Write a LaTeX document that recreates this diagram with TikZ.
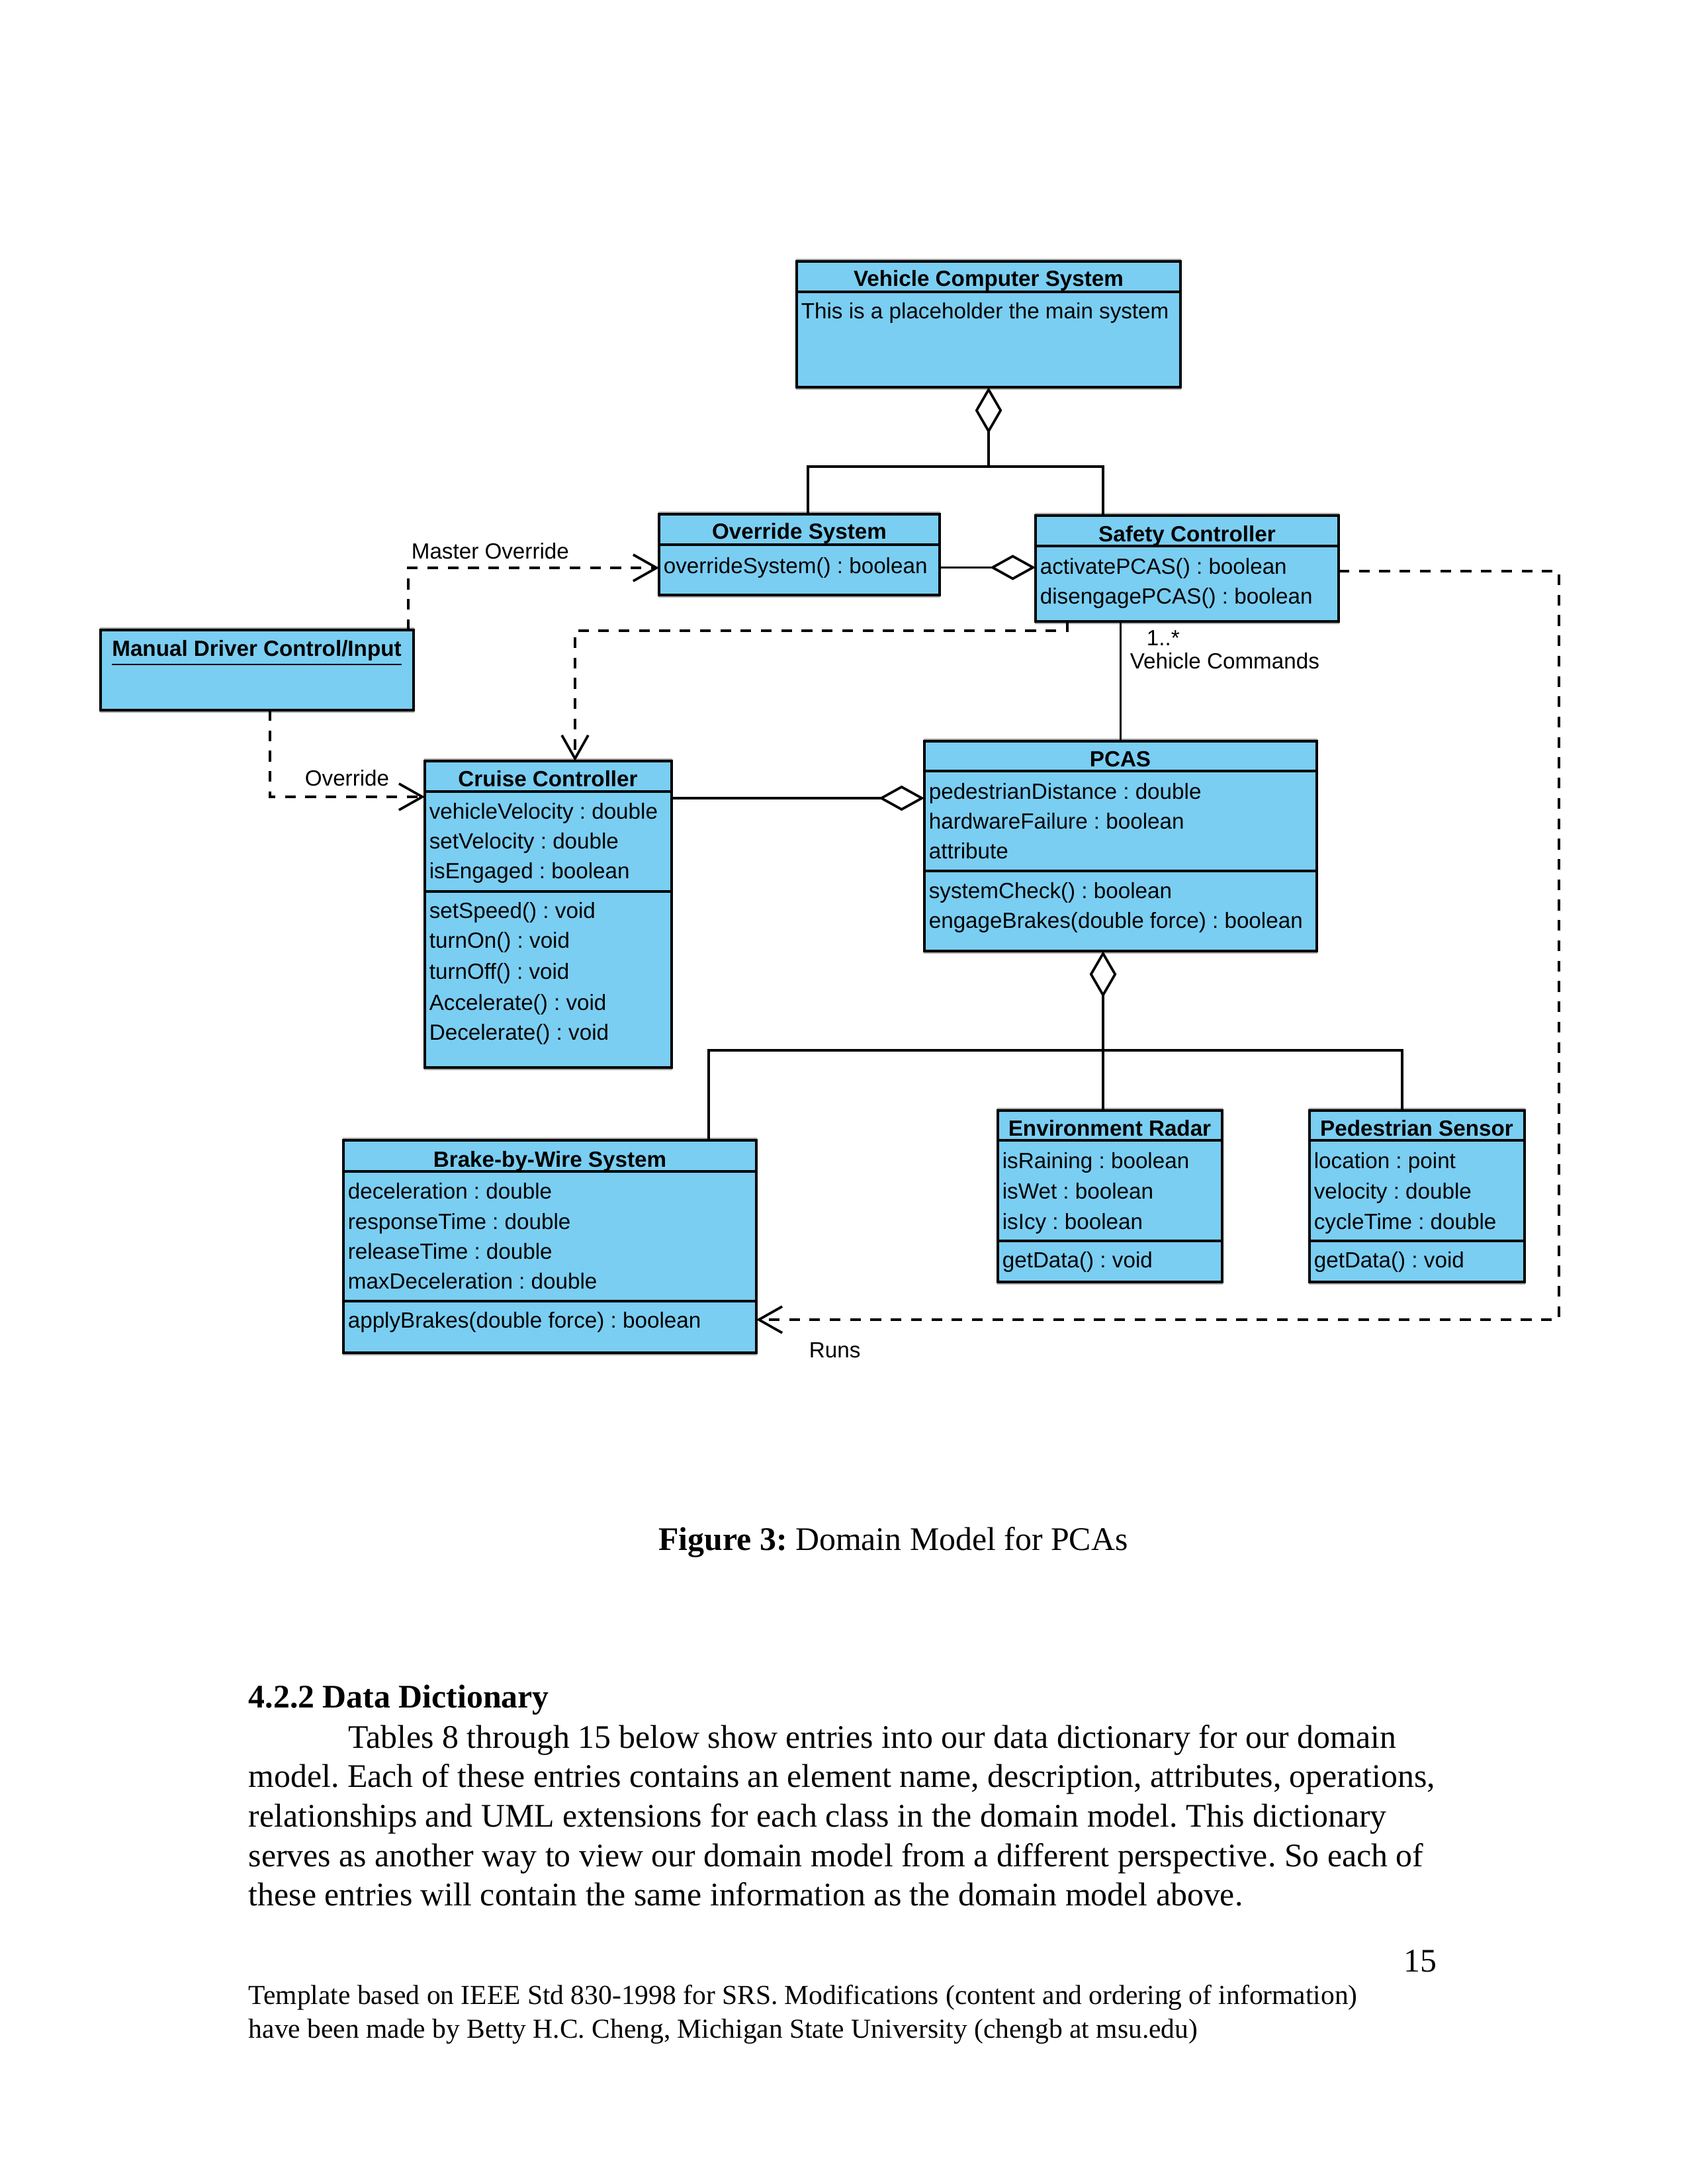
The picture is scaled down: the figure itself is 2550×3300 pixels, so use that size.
\documentclass[tikz,border=0pt]{standalone}
\usepackage{fontspec}
\setmainfont{Liberation Serif}
\newfontfamily\umlfont{Liberation Sans}
\usetikzlibrary{arrows.meta}
\frenchspacing
\definecolor{umlblue}{RGB}{122,206,242}
\definecolor{umlshadow}{RGB}{170,170,170}
\newcommand\classbox[7]{%
  \draw[shadowline] (#2,#3-3) rectangle (#4,#5+3);
  \node[cbox, minimum width={(#4-#2)*0.24088pt}, minimum height={(#5-#3)*0.24088pt}] (#1) at ({(#2+#4)/2},{(#3+#5)/2}) {};
  \draw[cline] (#2,#6) -- (#4,#6);
  \ifx&#7&\else\draw[cline] (#2,#7) -- (#4,#7);\fi
}
\newcommand\ctitle[4]{\node[ttl] (#1) at (#2,#3) {#4};}
\newcommand\citem[4]{\node[itm] (#1) at (#2,#3) {#4};}
\begin{document}
\frenchspacing
\begin{tikzpicture}[x=0.24088pt, y=-0.24088pt,
  cbox/.style={draw=black, fill=umlblue, line width=0.9pt, inner sep=0pt, outer sep=0pt, rectangle},
  cline/.style={draw=black, line width=0.9pt},
  shadowline/.style={draw=umlshadow, line width=0.7pt},
  ttl/.style={anchor=base, inner sep=0pt, font=\umlfont\fontsize{8}{10}\selectfont\bfseries},
  itm/.style={anchor=base west, inner sep=0pt, font=\umlfont\fontsize{8}{10}\selectfont},
  lbl/.style={anchor=base west, inner sep=0pt, font=\umlfont\fontsize{8}{10}\selectfont},
  conn/.style={draw=black, line width=0.75pt},
  agg/.style={draw=black, line width=0.9pt, {Diamond[open, length=16.9pt, width=9.8pt]}-},
  aggh/.style={draw=black, line width=0.9pt, {Diamond[open, length=16.6pt, width=9.2pt]}-},
  dep/.style={draw=black, line width=0.9pt, dash pattern=on 3.9pt off 3.5pt, -{Straight Barb[length=8.5pt, width=9.6pt]}},
  body/.style={anchor=base west, inner sep=0pt, font=\fontsize{12}{14}\selectfont},
  foot/.style={anchor=base west, inner sep=0pt, font=\fontsize{10}{12}\selectfont}
]
\fill[white] (0,0) rectangle (2550,3300);
\useasboundingbox (0,0) rectangle (2550,3300);

% ---------- class boxes ----------
\classbox{vcs}{1204}{395}{1784}{585}{441}{}
\ctitle{vcst}{1494}{432}{Vehicle Computer System}
\citem{vcs1}{1210}{481}{This is a placeholder the main system}

\classbox{ovr}{996}{777}{1420}{899}{823}{}
\ctitle{ovrt}{1208}{814}{Override System}
\citem{ovrop}{1002}{866}{overrideSystem() : boolean}

\classbox{sc}{1565}{779}{2023}{939}{825}{}
\ctitle{sct}{1794}{818}{Safety Controller}
\citem{sc1t}{1571}{867}{activatePCAS() : boolean}
\citem{sc2t}{1571}{912}{disengagePCAS() : boolean}

\draw[shadowline] (152,949) rectangle (625,1076);
\node[cbox, minimum width={(625-152)*0.24088pt}, minimum height={(1073-952)*0.24088pt}] (man) at ({(152+625)/2},{(952+1073)/2}) {};
\ctitle{mant}{388}{991}{\underline{Manual Driver Control/Input}}

\classbox{cc}{642}{1150}{1015}{1613}{1196}{1347}
\ctitle{cct}{828}{1188}{Cruise Controller}
\citem{cca1}{648}{1237}{vehicleVelocity : double}
\citem{cca2}{648}{1282}{setVelocity : double}
\citem{cca3}{648}{1327}{isEngaged : boolean}
\citem{cco1}{648}{1387}{setSpeed() : void}
\citem{cco2}{648}{1432}{turnOn() : void}
\citem{cco3}{648}{1479}{turnOff() : void}
\citem{cco4}{648}{1526}{Accelerate() : void}
\citem{cco5}{648}{1571}{Decelerate() : void}

\classbox{pcas}{1397}{1120}{1990}{1437}{1165}{1316}
\ctitle{pcast}{1693}{1158}{PCAS}
\citem{pa1}{1403}{1207}{pedestrianDistance : double}
\citem{pa2}{1403}{1252}{hardwareFailure : boolean}
\citem{pa3}{1403}{1297}{attribute}
\citem{po1}{1403}{1357}{systemCheck() : boolean}
\citem{po2}{1403}{1402}{engageBrakes(double force) : boolean}

\classbox{bw}{519}{1723}{1143}{2044}{1770}{1966}
\ctitle{bwt}{831}{1763}{Brake-by-Wire System}
\citem{bwa1}{525}{1811}{deceleration : double}
\citem{bwa2}{525}{1857}{responseTime : double}
\citem{bwa3}{525}{1902}{releaseTime : double}
\citem{bwa4}{525}{1947}{maxDeceleration : double}
\citem{bwo1}{525}{2006}{applyBrakes(double force) : boolean}

\classbox{er}{1508}{1678}{1847}{1937}{1723}{1875}
\ctitle{ert}{1677}{1716}{Environment Radar}
\citem{era1}{1514}{1765}{isRaining : boolean}
\citem{era2}{1514}{1811}{isWet : boolean}
\citem{era3}{1514}{1857}{isIcy : boolean}
\citem{ero1}{1514}{1915}{getData() : void}

\classbox{ps}{1979}{1678}{2304}{1937}{1723}{1875}
\ctitle{pst}{2141}{1716}{Pedestrian Sensor}
\citem{psa1}{1985}{1765}{location : point}
\citem{psa2}{1985}{1811}{velocity : double}
\citem{psa3}{1985}{1857}{cycleTime : double}
\citem{pso1}{1985}{1915}{getData() : void}

% ---------- connectors ----------
\coordinate (j1) at (1494,705);
\coordinate (jL) at (1221,705);
\coordinate (jR) at (1667,705);
\draw[agg] (vcs.south) -- (j1);
\draw[conn] (jL |- ovr.north) -- (jL) -- (jR) -- (jR |- sc.north);

\draw[aggh] (sc.west |- ovrop) -- (ovr.east |- ovrop);

\coordinate (mo1) at (617,858);
\draw[dep] (mo1 |- man.north) -- (mo1) -- (ovr.west |- mo1);
\node[lbl] (mol) at (621,844) {Master Override};

\coordinate (sd1) at (1613,953);
\coordinate (sd2) at (869,953);
\draw[dep] (sd1 |- sc.south) -- (sd1) -- (sd2) -- (sd2 |- cc.north);

\coordinate (md1) at (408,1204);
\draw[dep] (md1 |- man.south) -- (md1) -- (cc.west |- md1);
\node[lbl] (mdl) at (460,1187) {Override};

\draw[conn] (pcas.north |- sc.south) -- (pcas.north);
\node[lbl] (mult) at (1732,975) {1..*};
\node[lbl] (vcl) at (1707,1010) {Vehicle Commands};

\coordinate (cp) at (1200,1206);
\draw[aggh] (pcas.west |- cp) -- (cc.east |- cp);

\coordinate (pj) at (1667,1587);
\coordinate (bj) at (1071,1587);
\coordinate (qj) at (2119,1587);
\draw[agg] (pj |- pcas.south) -- (pj);
\draw[conn] (bj |- bw.north) -- (bj) -- (qj) -- (qj |- ps.north);
\draw[conn] (pj) -- (pj |- er.north);

\coordinate (r1) at (2356,863);
\coordinate (r2) at (2356,1994);
\draw[dep] (sc.east |- r1) -- (r1) -- (r2) -- (bw.east |- r2);
\node[lbl] (runs) at (1222,2051) {Runs};

% ---------- page text ----------
\node[anchor=base, inner sep=0pt, font=\fontsize{12}{14}\selectfont] (cap) at (1350,2342) {\textbf{Figure 3:} Domain Model for PCAs};
\node[body] (h1) at (375,2580) {\bfseries 4.2.2 Data Dictionary};
\node[body] (l1) at (526,2641) {Tables 8 through 15 below show entries into our data dictionary for our domain};
\node[body] (l2) at (375,2700) {model. Each of these entries contains an element name, description, attributes, operations,};
\node[body] (l3) at (375,2760) {relationships and UML extensions for each class in the domain model. This dictionary};
\node[body] (l4) at (375,2820) {serves as another way to view our domain model from a different perspective. So each of};
\node[body] (l5) at (375,2879) {these entries will contain the same information as the domain model above.};
\node[anchor=base east, inner sep=0pt, font=\fontsize{12}{14}\selectfont] (pg) at (2172,2979) {15};
\node[foot] (f1) at (375,3028) {Template based on IEEE Std 830-1998 for SRS. Modifications (content and ordering of information)};
\node[foot] (f2) at (375,3079) {have been made by Betty H.C. Cheng, Michigan State University (chengb at msu.edu)};
\end{tikzpicture}
\end{document}
